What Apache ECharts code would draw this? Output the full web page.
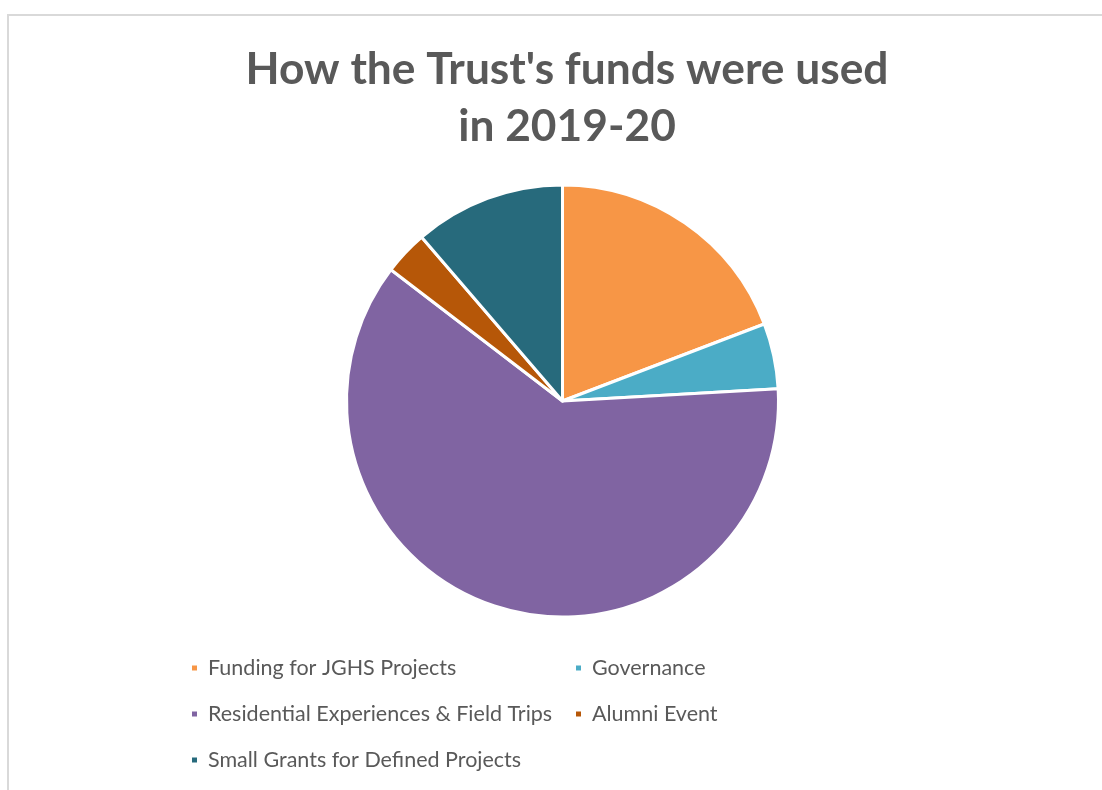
<!DOCTYPE html>
<html>
<head>
<meta charset="utf-8">
<script src="https://cdn.jsdelivr.net/npm/echarts@6/dist/echarts.min.js"></script>
<style>
html,body{margin:0;padding:0;background:#fff;}
#frame{position:absolute;left:7px;top:14px;right:-10px;bottom:-10px;border:2px solid #d9d9d9;}
#chart{position:absolute;left:0;top:0;width:1102px;height:790px;}
</style>
</head>
<body>
<div id="frame"></div>
<div id="chart"></div>
<script>
const titleText = "How the Trust's funds were used\nin 2019-20";
const categories = [
  "Funding for JGHS Projects",
  "Governance",
  "Residential Experiences & Field Trips",
  "Alumni Event",
  "Small Grants for Defined Projects"
];
const shares = [19.2, 4.9, 61.3, 3.3, 11.3];
const colors = ["#F79646", "#4BACC6", "#8064A2", "#B65708", "#276A7C"];
const legendCol1 = [categories[0], categories[2], categories[4]];
const legendCol2 = [categories[1], categories[3]];

const chart = echarts.init(document.getElementById('chart'), null, {renderer: 'canvas'});
const legendBase = {
  orient: 'vertical',
  top: 652,
  itemWidth: 7,
  itemHeight: 7,
  itemGap: 24,
  icon: 'rect',
  textStyle: {fontFamily: 'Lato', fontSize: 21.5, color: '#595959', lineHeight: 22, padding: [0,0,0,5]}
};
chart.setOption({
  backgroundColor: 'transparent',
  animation: false,
  color: colors,
  title: {
    text: titleText,
    left: 562,
    textAlign: 'center',
    top: 36,
    textStyle: {fontFamily: 'Lato', fontWeight: 'bold', fontSize: 44.3, lineHeight: 57, color: '#595959'}
  },
  legend: [
    Object.assign({}, legendBase, {left: 185, data: legendCol1}),
    Object.assign({}, legendBase, {left: 569, data: legendCol2})
  ],
  series: [{
    type: 'pie',
    center: [562.5, 401],
    radius: [0, 216],
    startAngle: 90,
    clockwise: true,
    label: {show: false},
    labelLine: {show: false},
    itemStyle: {borderColor: '#fff', borderWidth: 3},
    emphasis: {disabled: true},
    data: categories.map((c, i) => ({name: c, value: shares[i]}))
  }]
});
</script>
</body>
</html>
